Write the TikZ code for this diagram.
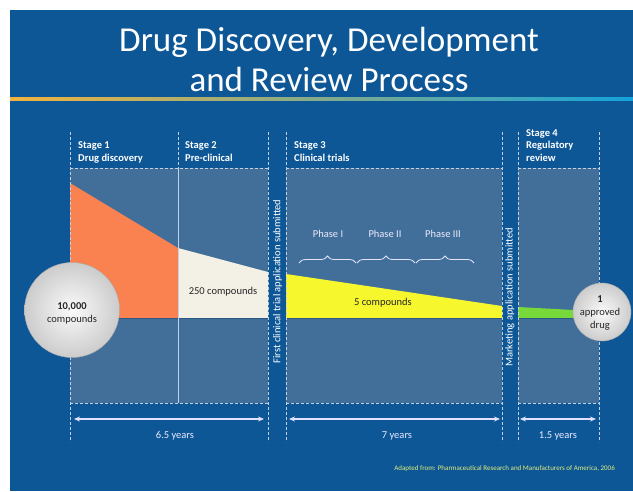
\documentclass[tikz,border=0pt]{standalone}
\usepackage{fontspec}
\setmainfont{Carlito}
\usetikzlibrary{decorations.pathreplacing,arrows.meta}
\definecolor{slideblue}{HTML}{0E5796}
\definecolor{panelc}{HTML}{426F99}
\definecolor{dashc}{HTML}{C3D2E2}
\definecolor{orangef}{HTML}{FA8150}
\definecolor{creamf}{HTML}{F3F0E5}
\definecolor{yellowf}{HTML}{F7F72E}
\definecolor{greenf}{HTML}{78DA3A}
\definecolor{creditc}{HTML}{E0EE7A}
\definecolor{gradL}{HTML}{F2B33D}
\definecolor{gradM}{HTML}{B8D49C}
\definecolor{gradR}{HTML}{14A3DA}
\definecolor{basec}{HTML}{2B5884}
\definecolor{textdark}{HTML}{262626}
\begin{document}
\begin{tikzpicture}[x=1pt,y=-1pt,
  titletext/.style={text=white, font=\fontsize{35}{40}\selectfont, inner sep=0pt},
  stagehead/.style={anchor=base west, align=left, text=white, font=\bfseries\fontsize{10.5}{12.5}\selectfont, inner sep=0pt},
  guide/.style={draw=dashc, dash pattern=on 3pt off 2pt, line width=0.6pt},
  divider/.style={draw=dashc, line width=0.5pt},
  panel/.style={fill=panelc},
  baseln/.style={draw=basec, line width=1pt},
  funneltext/.style={text=textdark, font=\fontsize{10.5}{13}\selectfont, inner sep=0pt},
  ballnode/.style={circle, inner sep=0pt, shading=radial, inner color=white!96!gray, outer color=gray!40!white, draw=gray!65!white, line width=0.4pt},
  circtext/.style={text=textdark, align=center, font=\fontsize{10.5}{13}\selectfont, inner sep=0pt},
  phasetext/.style={text=white!92!blue, font=\fontsize{10.5}{13}\selectfont, inner sep=0pt},
  bracestyle/.style={draw=white!90!blue, line width=0.8pt, decorate, decoration={brace, amplitude=7pt}},
  rotlabel/.style={rotate=90, text=white, font=\fontsize{10.5}{13}\selectfont, inner sep=0pt},
  yeararrow/.style={draw=white!88!blue, line width=1.3pt, {Stealth[length=6pt,width=5pt]}-{Stealth[length=6pt,width=5pt]}},
  yeartext/.style={text=white!92!blue, font=\fontsize{10.5}{13}\selectfont, inner sep=0pt},
  credittext/.style={text=creditc, font=\fontsize{7}{8}\selectfont, inner sep=0pt, anchor=east}
]
\useasboundingbox (0,0) rectangle (633,491);
\fill[white] (0,0) rectangle (633,491);
\fill[slideblue] (10,10) rectangle (633,491);
\shade[left color=gradL, middle color=gradM, right color=gradR] (10,97) rectangle (633,100.5);

% title
\node[titletext, anchor=base] (title1) at (329,51) {Drug Discovery, Development};
\node[titletext, anchor=base] (title2) at (329,91) {and Review Process};

% panels
\fill[panel] (70,168) rectangle (268,403);
\fill[panel] (286,168) rectangle (502,403);
\fill[panel] (518,168) rectangle (599,403);

% funnel
\fill[orangef] (70,183) -- (178,248) -- (178,318) -- (70,318) -- cycle;
\fill[creamf] (178,248) -- (268,272) -- (268,318) -- (178,318) -- cycle;
\fill[yellowf] (286,274) -- (502,306) -- (502,318) -- (286,318) -- cycle;
\fill[greenf] (518,307) -- (592,311) -- (592,318) -- (518,318) -- cycle;
\draw[baseln] (70,318.5) -- (268,318.5);
\draw[baseln] (286,318.5) -- (502,318.5);
\draw[baseln] (518,318.5) -- (599,318.5);

% panel edges
\draw[guide] (70,168) -- (268,168);
\draw[guide] (286,168) -- (502,168);
\draw[guide] (518,168) -- (599,168);
\draw[guide] (70,403) -- (268,403);
\draw[guide] (286,403) -- (502,403);
\draw[guide] (518,403) -- (599,403);

% vertical guides
\draw[guide] (70,132) -- (70,442);
\draw[guide] (178,132) -- (178,168);
\draw[divider] (178,168) -- (178,403);
\draw[guide] (268,132) -- (268,442);
\draw[guide] (286,132) -- (286,442);
\draw[guide] (502,132) -- (502,442);
\draw[guide] (518,132) -- (518,442);
\draw[guide] (599,132) -- (599,442);

% stage headers (anchor = baseline of last line)
\node[stagehead] (s1) at (78,161) {Stage 1\\Drug discovery};
\node[stagehead] (s2) at (185,161) {Stage 2\\Pre-clinical};
\node[stagehead] (s3) at (294,161) {Stage 3\\Clinical trials};
\node[stagehead] (s4) at (526,161) {Stage 4\\Regulatory\\review};

% rotated milestones
\node[rotlabel] (fcta) at (277.5,281.5) {First clinical trial application submitted};
\node[rotlabel] (mas) at (510,297.5) {Marketing application submitted};

% funnel labels
\node[funneltext] (t250) at (223,292) {250 compounds};
\node[funneltext] (t5) at (383,303) {5 compounds};

% phases
\node[phasetext] (p1) at (328,234) {Phase I};
\node[phasetext] (p2) at (385,234) {Phase II};
\node[phasetext] (p3) at (443,234) {Phase III};
\coordinate (b1s) at (299,263); \coordinate (b1e) at (356,263);
\coordinate (b2s) at (357,263); \coordinate (b2e) at (415,263);
\coordinate (b3s) at (416,263); \coordinate (b3e) at (474,263);
\draw[bracestyle] (b1s) -- (b1e);
\draw[bracestyle] (b2s) -- (b2e);
\draw[bracestyle] (b3s) -- (b3e);

% circles
\node[ballnode, minimum size=95pt] (c10k) at (72,310) {};
\node[circtext] (c10kt) at (72,313) {\textbf{10,000}\\compounds};
\node[ballnode, minimum size=58pt] (c1) at (602,312) {};
\node[circtext] (c1t) at (600,313) {\textbf{1}\\approved\\drug};

% year arrows
\coordinate (a1s) at (74,419); \coordinate (a1e) at (264,419);
\coordinate (a2s) at (289,419); \coordinate (a2e) at (500,419);
\coordinate (a3s) at (520,419); \coordinate (a3e) at (596,419);
\draw[yeararrow] (a1s) -- (a1e);
\draw[yeararrow] (a2s) -- (a2e);
\draw[yeararrow] (a3s) -- (a3e);
\node[yeartext] (y1) at (175,436) {6.5 years};
\node[yeartext] (y2) at (397,436) {7 years};
\node[yeartext] (y3) at (558,436) {1.5 years};

% credit
\node[credittext] (credit) at (615,469) {Adapted from: Pharmaceutical Research and Manufacturers of America, 2006};
\end{tikzpicture}
\end{document}
